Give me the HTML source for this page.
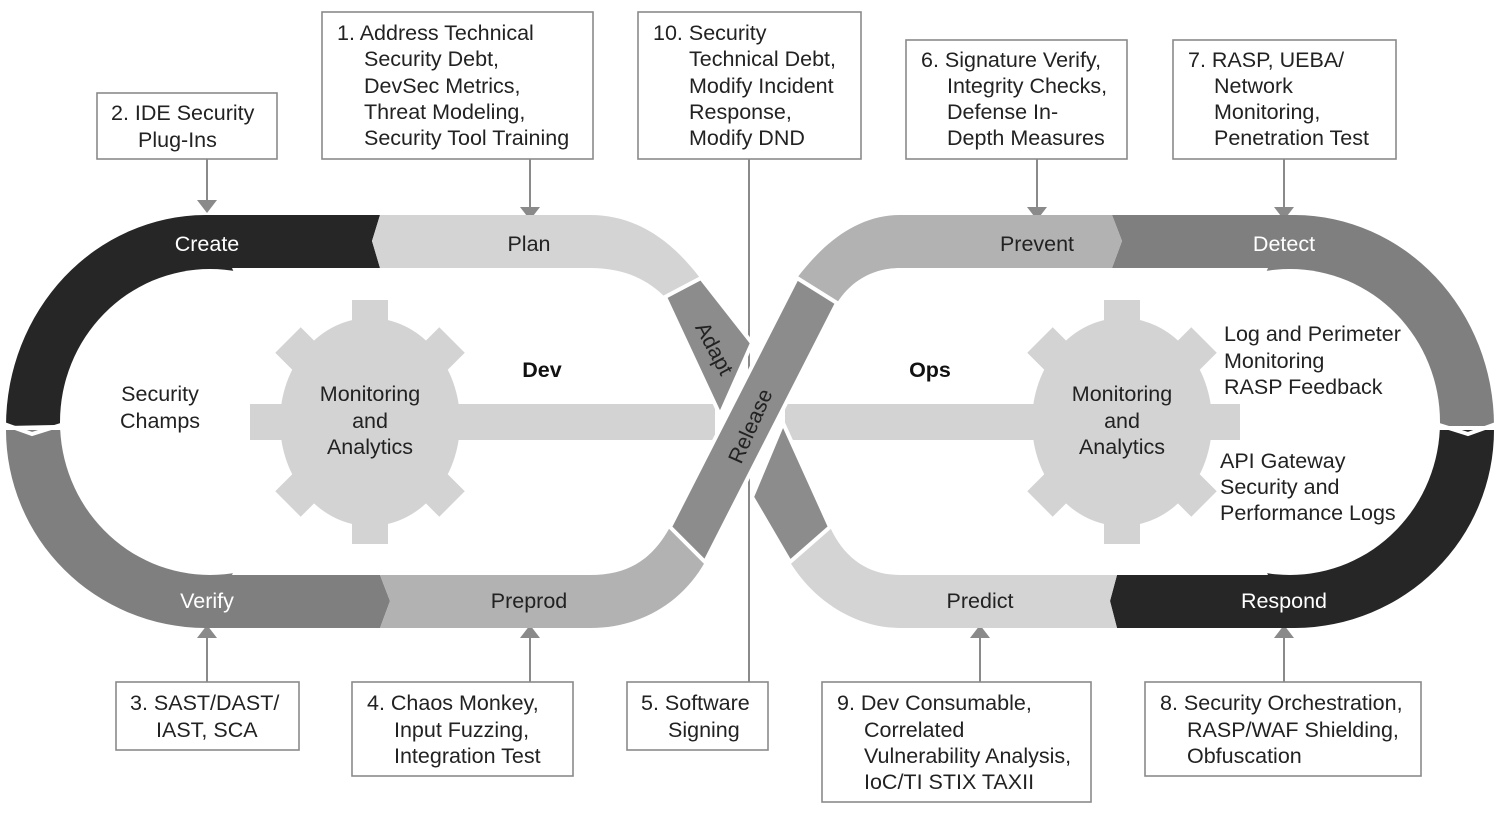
<!DOCTYPE html>
<html><head><meta charset="utf-8"><style>
html,body{margin:0;padding:0;background:#fff;}
svg{display:block;font-family:"Liberation Sans",sans-serif;}
.bx{fill:#fff;stroke:#8a8a8a;stroke-width:1.6}
.t{font-size:21.5px;fill:#222}
.c{font-size:21.5px;text-anchor:middle}
</style></head><body>
<svg width="1500" height="815" viewBox="0 0 1500 815" xmlns="http://www.w3.org/2000/svg">
<defs>
<g id="gear">
  <g fill="#d3d3d3">
    <ellipse cx="0" cy="0" rx="90" ry="104"/>
    <rect x="-18" y="-122" width="36" height="40"/>
    <rect x="-18" y="82" width="36" height="40"/>
    <g transform="rotate(45)"><rect x="-18" y="-116" width="36" height="40"/><rect x="-18" y="76" width="36" height="40"/></g>
    <g transform="rotate(-45)"><rect x="-18" y="-116" width="36" height="40"/><rect x="-18" y="76" width="36" height="40"/></g>
  </g>
</g>
</defs>

<g stroke="#8a8a8a" stroke-width="2" fill="#8a8a8a">
  <line x1="207" y1="159" x2="207" y2="202"/><polygon points="197,200 217,200 207,213" stroke="none"/>
  <line x1="530" y1="159" x2="530" y2="208"/><polygon points="520,207 540,207 530,220" stroke="none"/>
  <line x1="749" y1="159" x2="749" y2="682"/>
  <line x1="1037" y1="159" x2="1037" y2="208"/><polygon points="1027,207 1047,207 1037,220" stroke="none"/>
  <line x1="1284" y1="159" x2="1284" y2="208"/><polygon points="1274,207 1294,207 1284,220" stroke="none"/>
  <line x1="207" y1="682" x2="207" y2="637"/><polygon points="197,638 217,638 207,625" stroke="none"/>
  <line x1="530" y1="682" x2="530" y2="637"/><polygon points="520,638 540,638 530,625" stroke="none"/>
  <line x1="980" y1="682" x2="980" y2="637"/><polygon points="970,638 990,638 980,625" stroke="none"/>
  <line x1="1284" y1="682" x2="1284" y2="637"/><polygon points="1274,638 1294,638 1284,625" stroke="none"/>
</g>

<path d="M6,426 A200,211 0 0 1 205,215 L380,215 L372,241 L380,268 L232,268 L300,420 Z" fill="#262626"/>
<path d="M6,430 L300,430 L232,575 L380,575 L390,601 L380,628 L205,628 A200,198 0 0 1 6,430 Z" fill="#7f7f7f"/>
<ellipse cx="210" cy="422" rx="150" ry="153" fill="#fff"/>
<polyline points="4,424 32,434 64,424" fill="none" stroke="#fff" stroke-width="4"/>

<path d="M1112,215 L1295,215 A200,211 0 0 1 1494,426 L1200,426 L1268,268 L1112,268 L1122,241 Z" fill="#7f7f7f"/>
<path d="M1494,430 A200,198 0 0 1 1295,628 L1117,628 L1110,601 L1117,575 L1268,575 L1200,430 Z" fill="#262626"/>
<ellipse cx="1290" cy="422" rx="150" ry="153" fill="#fff"/>
<polyline points="1436,424 1468,434 1496,424" fill="none" stroke="#fff" stroke-width="4"/>

<path d="M380,215 L590,215 C640,215 675,245 700,278 L665,297 C648,280 625,268 590,268 L380,268 L372,241 Z" fill="#d4d4d4"/>
<path d="M380,575 L590,575 C628,575 652,560 670,527 L705,562 C682,603 640,628 590,628 L380,628 L390,601 Z" fill="#b2b2b2"/>
<path d="M1112,215 L900,215 C856,215 822,245 797,278 L837,303 C850,282 872,268 900,268 L1112,268 L1122,241 Z" fill="#b2b2b2"/>
<path d="M1117,575 L900,575 C870,575 845,560 830,527 L790,562 C815,603 858,628 900,628 L1117,628 L1110,601 Z" fill="#d4d4d4"/>

<rect x="250" y="404" width="465" height="36" fill="#d3d3d3"/>
<rect x="785" y="404" width="455" height="36" fill="#d3d3d3"/>
<use href="#gear" transform="translate(370,422)"/>
<use href="#gear" transform="translate(1122,422)"/>

<g stroke="#fff" stroke-width="4" stroke-linejoin="round">
  <polygon points="665,297 701,278 752,343 720,415" fill="#8c8c8c"/>
  <polygon points="752,497 783,423 830,527 790,562" fill="#8c8c8c"/>
  <polygon points="797,278 837,303 705,562 670,527" fill="#8c8c8c"/>
</g>

<g class="c">
  <text x="207" y="251" fill="#fff">Create</text>
  <text x="529" y="251" fill="#222">Plan</text>
  <text x="1037" y="251" fill="#222">Prevent</text>
  <text x="1284" y="251" fill="#fff">Detect</text>
  <text x="207" y="608" fill="#fff">Verify</text>
  <text x="529" y="608" fill="#222">Preprod</text>
  <text x="980" y="608" fill="#222">Predict</text>
  <text x="1284" y="608" fill="#fff">Respond</text>
  <text x="542" y="377" fill="#111" font-weight="bold">Dev</text>
  <text x="930" y="377" fill="#111" font-weight="bold">Ops</text>
  <text x="160" y="401" fill="#222">Security</text>
  <text x="160" y="428" fill="#222">Champs</text>
  <text x="370" y="401" fill="#222">Monitoring</text>
  <text x="370" y="428" fill="#222">and</text>
  <text x="370" y="454" fill="#222">Analytics</text>
  <text x="1122" y="401" fill="#222">Monitoring</text>
  <text x="1122" y="428" fill="#222">and</text>
  <text x="1122" y="454" fill="#222">Analytics</text>
  <text x="0" y="0" fill="#222" transform="translate(708,352) rotate(62)">Adapt</text>
  <text x="0" y="0" fill="#222" transform="translate(757,429) rotate(-66)">Release</text>
</g>
<g class="t">
  <text x="1224" y="341">Log and Perimeter</text>
  <text x="1224" y="368">Monitoring</text>
  <text x="1224" y="394">RASP Feedback</text>
  <text x="1220" y="468">API Gateway</text>
  <text x="1220" y="494">Security and</text>
  <text x="1220" y="520">Performance Logs</text>
</g>

<rect class="bx" x="97" y="93" width="180" height="66"/>
<rect class="bx" x="322" y="12" width="271" height="147"/>
<rect class="bx" x="638" y="12" width="223" height="147"/>
<rect class="bx" x="906" y="40" width="221" height="119"/>
<rect class="bx" x="1173" y="40" width="223" height="119"/>
<rect class="bx" x="116" y="682" width="183" height="68"/>
<rect class="bx" x="352" y="682" width="221" height="94"/>
<rect class="bx" x="627" y="682" width="141" height="68"/>
<rect class="bx" x="822" y="682" width="269" height="120"/>
<rect class="bx" x="1145" y="682" width="276" height="94"/>

<g class="t">
  <text x="111" y="120">2. IDE Security</text>
  <text x="138" y="147">Plug-Ins</text>
  <text x="337" y="40">1. Address Technical</text>
  <text x="364" y="66">Security Debt,</text>
  <text x="364" y="93">DevSec Metrics,</text>
  <text x="364" y="119">Threat Modeling,</text>
  <text x="364" y="145">Security Tool Training</text>
  <text x="653" y="40">10. Security</text>
  <text x="689" y="66">Technical Debt,</text>
  <text x="689" y="93">Modify Incident</text>
  <text x="689" y="119">Response,</text>
  <text x="689" y="145">Modify DND</text>
  <text x="921" y="67">6. Signature Verify,</text>
  <text x="947" y="93">Integrity Checks,</text>
  <text x="947" y="119">Defense In-</text>
  <text x="947" y="145">Depth Measures</text>
  <text x="1188" y="67">7. RASP, UEBA/</text>
  <text x="1214" y="93">Network</text>
  <text x="1214" y="119">Monitoring,</text>
  <text x="1214" y="145">Penetration Test</text>
  <text x="130" y="710">3. SAST/DAST/</text>
  <text x="156" y="737">IAST, SCA</text>
  <text x="367" y="710">4. Chaos Monkey,</text>
  <text x="394" y="737">Input Fuzzing,</text>
  <text x="394" y="763">Integration Test</text>
  <text x="641" y="710">5. Software</text>
  <text x="668" y="737">Signing</text>
  <text x="837" y="710">9. Dev Consumable,</text>
  <text x="864" y="737">Correlated</text>
  <text x="864" y="763">Vulnerability Analysis,</text>
  <text x="864" y="789">IoC/TI STIX TAXII</text>
  <text x="1160" y="710">8. Security Orchestration,</text>
  <text x="1187" y="737">RASP/WAF Shielding,</text>
  <text x="1187" y="763">Obfuscation</text>
</g>
</svg>
</body></html>
